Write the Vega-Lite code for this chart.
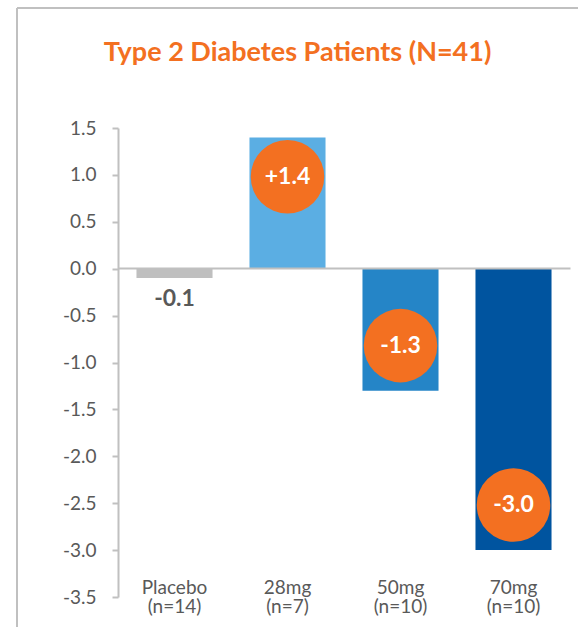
{
  "$schema": "https://vega.github.io/schema/vega-lite/v6.json",
  "width": 561,
  "height": 619,
  "autosize": {"type": "none"},
  "padding": {"left": 17, "top": 8, "right": 0, "bottom": 0},
  "background": "white",
  "config": {
    "font": "Lato",
    "view": {"stroke": "#c0c0c0", "strokeWidth": 2, "strokeDash": [561, 1180, 619, 0]}
  },
  "title": {
    "text": "Type 2 Diabetes Patients (N=41)",
    "color": "#F37021",
    "font": "Lato",
    "fontSize": 27,
    "fontWeight": "bold",
    "anchor": "middle",
    "baseline": "alphabetic",
    "offset": -80
  },
  "data": {
    "values": [
      {"group": "Placebo (n=14)", "value": -0.1},
      {"group": "28mg (n=7)", "value": 1.4},
      {"group": "50mg (n=10)", "value": -1.3},
      {"group": "70mg (n=10)", "value": -3.0}
    ]
  },
  "transform": [
    {"calculate": "(datum.value > 0 ? '+' : '') + replace(format(datum.value, '.1f'), '\u2212', '-')", "as": "txt"},
    {"calculate": "datum.value > 0 ? datum.value - 0.42 : datum.value + 0.48", "as": "badgeY"}
  ],
  "encoding": {
    "x": {
      "field": "group",
      "type": "nominal",
      "sort": null,
      "scale": {"range": [101, 553], "paddingInner": 0.327, "paddingOuter": 0.1635},
      "axis": {
        "orient": "top",
        "offset": -260,
        "domainColor": "#c0c0c0",
        "domainWidth": 2,
        "ticks": false,
        "labels": false,
        "title": null,
        "zindex": 1
      }
    },
    "y": {
      "field": "value",
      "type": "quantitative",
      "scale": {"domain": [-3.5, 1.5], "range": [589, 120], "nice": false, "zero": false},
      "axis": {
        "offset": -101,
        "values": [-3.5, -3, -2.5, -2, -1.5, -1, -0.5, 0, 0.5, 1, 1.5],
        "format": ".1f",
        "labelExpr": "replace(datum.label, '\u2212', '-')",
        "domainColor": "#c0c0c0",
        "domainWidth": 2,
        "tickColor": "#c0c0c0",
        "tickWidth": 2,
        "tickSize": 6,
        "labelPadding": 16,
        "labelFont": "Lato",
        "labelFontSize": 19,
        "labelColor": "#595959",
        "grid": false,
        "title": null
      }
    }
  },
  "layer": [
    {
      "mark": {"type": "bar"},
      "encoding": {
        "y2": {"datum": 0},
        "color": {
          "field": "group",
          "type": "nominal",
          "scale": {
            "domain": ["Placebo (n=14)", "28mg (n=7)", "50mg (n=10)", "70mg (n=10)"],
            "range": ["#BFBFBF", "#5BAEE3", "#2585C7", "#00549F"]
          },
          "legend": null
        }
      }
    },
    {
      "mark": {"type": "text", "lineBreak": " ", "baseline": "top", "dy": -18, "fontSize": 19, "color": "#595959", "font": "Lato", "lineHeight": 19},
      "encoding": {
        "y": {"datum": -3.5},
        "text": {"field": "group"}
      }
    },
    {
      "transform": [{"filter": "datum.group != 'Placebo (n=14)'"}],
      "mark": {"type": "circle", "size": 5410, "color": "#F37021", "opacity": 1},
      "encoding": {
        "y": {"field": "badgeY", "type": "quantitative"}
      }
    },
    {
      "transform": [{"filter": "datum.group != 'Placebo (n=14)'"}],
      "mark": {"type": "text", "baseline": "middle", "fontSize": 23, "fontWeight": "bold", "color": "white", "font": "Lato"},
      "encoding": {
        "y": {"field": "badgeY", "type": "quantitative"},
        "text": {"field": "txt"}
      }
    },
    {
      "transform": [{"filter": "datum.group == 'Placebo (n=14)'"}],
      "mark": {"type": "text", "baseline": "middle", "dy": 21, "fontSize": 23, "fontWeight": "bold", "color": "#595959", "font": "Lato"},
      "encoding": {
        "text": {"field": "txt"}
      }
    }
  ]
}
